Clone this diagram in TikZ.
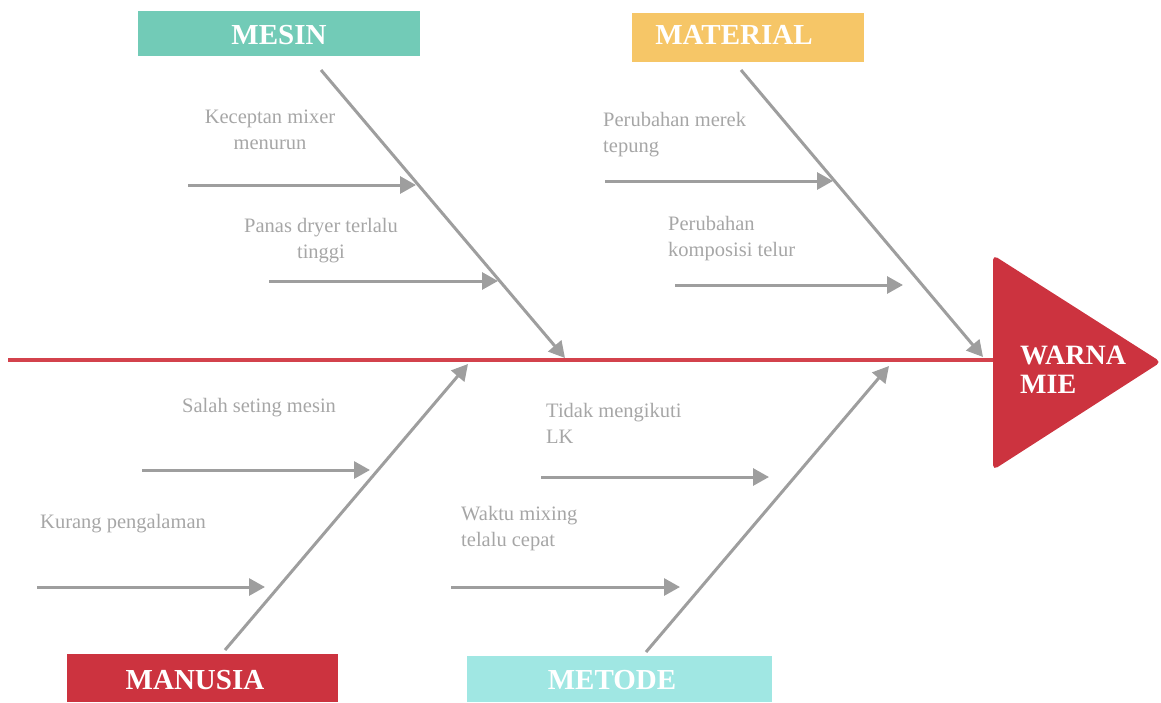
\documentclass[tikz,border=0pt]{standalone}
\usepackage{fontspec}
\setmainfont{Liberation Serif}
\usetikzlibrary{arrows.meta}
\definecolor{mesinc}{HTML}{72CBB7}
\definecolor{materialc}{HTML}{F6C667}
\definecolor{redc}{HTML}{CC333F}
\definecolor{metodec}{HTML}{A0E7E3}
\definecolor{spinec}{HTML}{D3424C}
\definecolor{bonec}{HTML}{9E9E9E}
\definecolor{txtc}{HTML}{A6A6A6}
\tikzset{
  catbox/.style={draw=none, inner sep=0pt, text=white, font=\fontsize{29}{31}\selectfont\bfseries},
  bone/.style={draw=bonec, line width=3pt, -{Triangle[length=16pt,width=17pt]}},
  subarrow/.style={draw=bonec, line width=3pt, -{Triangle[length=16pt,width=17pt]}},
  cause/.style={text=txtc, inner sep=0pt, font=\fontsize{20.5}{26}\selectfont},
}
\begin{document}
\begin{tikzpicture}[x=1pt,y=-1pt]
\useasboundingbox (0,0) rectangle (1161,702);
% category boxes
\fill[mesinc] (138,11) rectangle (420,56);
\node[catbox] (mesin) at (279,35) {MESIN};
\fill[materialc] (632,13) rectangle (864,62);
\node[catbox] (material) at (734,35) {MATERIAL};
\fill[redc] (67,654) rectangle (338,702);
\node[catbox] (manusia) at (195,680) {MANUSIA};
\fill[metodec] (467,656) rectangle (772,702);
\node[catbox] (metode) at (612,680) {METODE};
% head
\fill[redc, rounded corners=5pt] (993,255) -- (1161,362) -- (993,470) -- cycle;
\node[catbox, align=left, anchor=west, font=\fontsize{28}{29}\selectfont\bfseries] (head) at (1020,370) {WARNA\\MIE};
% spine
\coordinate (spl) at (8,360);
\coordinate (spr) at (993,360);
\draw[spinec, line width=3.5pt] (spl) -- (spr);
% bones
\coordinate (b1s) at (321,70);  \coordinate (b1e) at (565,358);
\coordinate (b2s) at (741,70);  \coordinate (b2e) at (983,357);
\coordinate (b3s) at (225,650); \coordinate (b3e) at (468,364);
\coordinate (b4s) at (646,652); \coordinate (b4e) at (889,366);
\draw[bone] (b1s) -- (b1e);
\draw[bone] (b2s) -- (b2e);
\draw[bone] (b3s) -- (b3e);
\draw[bone] (b4s) -- (b4e);
% sub arrows
\coordinate (s1s) at (188,185); \coordinate (s1e) at (416,185);
\coordinate (s2s) at (269,281); \coordinate (s2e) at (498,281);
\coordinate (s3s) at (605,181); \coordinate (s3e) at (833,181);
\coordinate (s4s) at (675,285); \coordinate (s4e) at (903,285);
\coordinate (s5s) at (142,470); \coordinate (s5e) at (370,470);
\coordinate (s6s) at (37,587);  \coordinate (s6e) at (265,587);
\coordinate (s7s) at (541,477); \coordinate (s7e) at (769,477);
\coordinate (s8s) at (451,587); \coordinate (s8e) at (680,587);
\foreach \i in {1,...,8} {\draw[subarrow] (s\i s) -- (s\i e);}
% cause texts
\node[cause, align=center, anchor=north] (t1) at (270,110) {Keceptan mixer\\menurun};
\node[cause, align=center, anchor=north] (t2) at (321,218) {Panas dryer terlalu\\tinggi};
\node[cause, align=left, anchor=north west] (t3) at (603,112) {Perubahan merek\\tepung};
\node[cause, align=left, anchor=north west] (t4) at (668,216) {Perubahan\\komposisi telur};
\node[cause, anchor=north west] (t5) at (182,398) {Salah seting mesin};
\node[cause, anchor=north west] (t6) at (40,514) {Kurang pengalaman};
\node[cause, align=left, anchor=north west] (t7) at (546,403) {Tidak mengikuti\\LK};
\node[cause, align=left, anchor=north west] (t8) at (461,506) {Waktu mixing\\telalu cepat};
\end{tikzpicture}
\end{document}
